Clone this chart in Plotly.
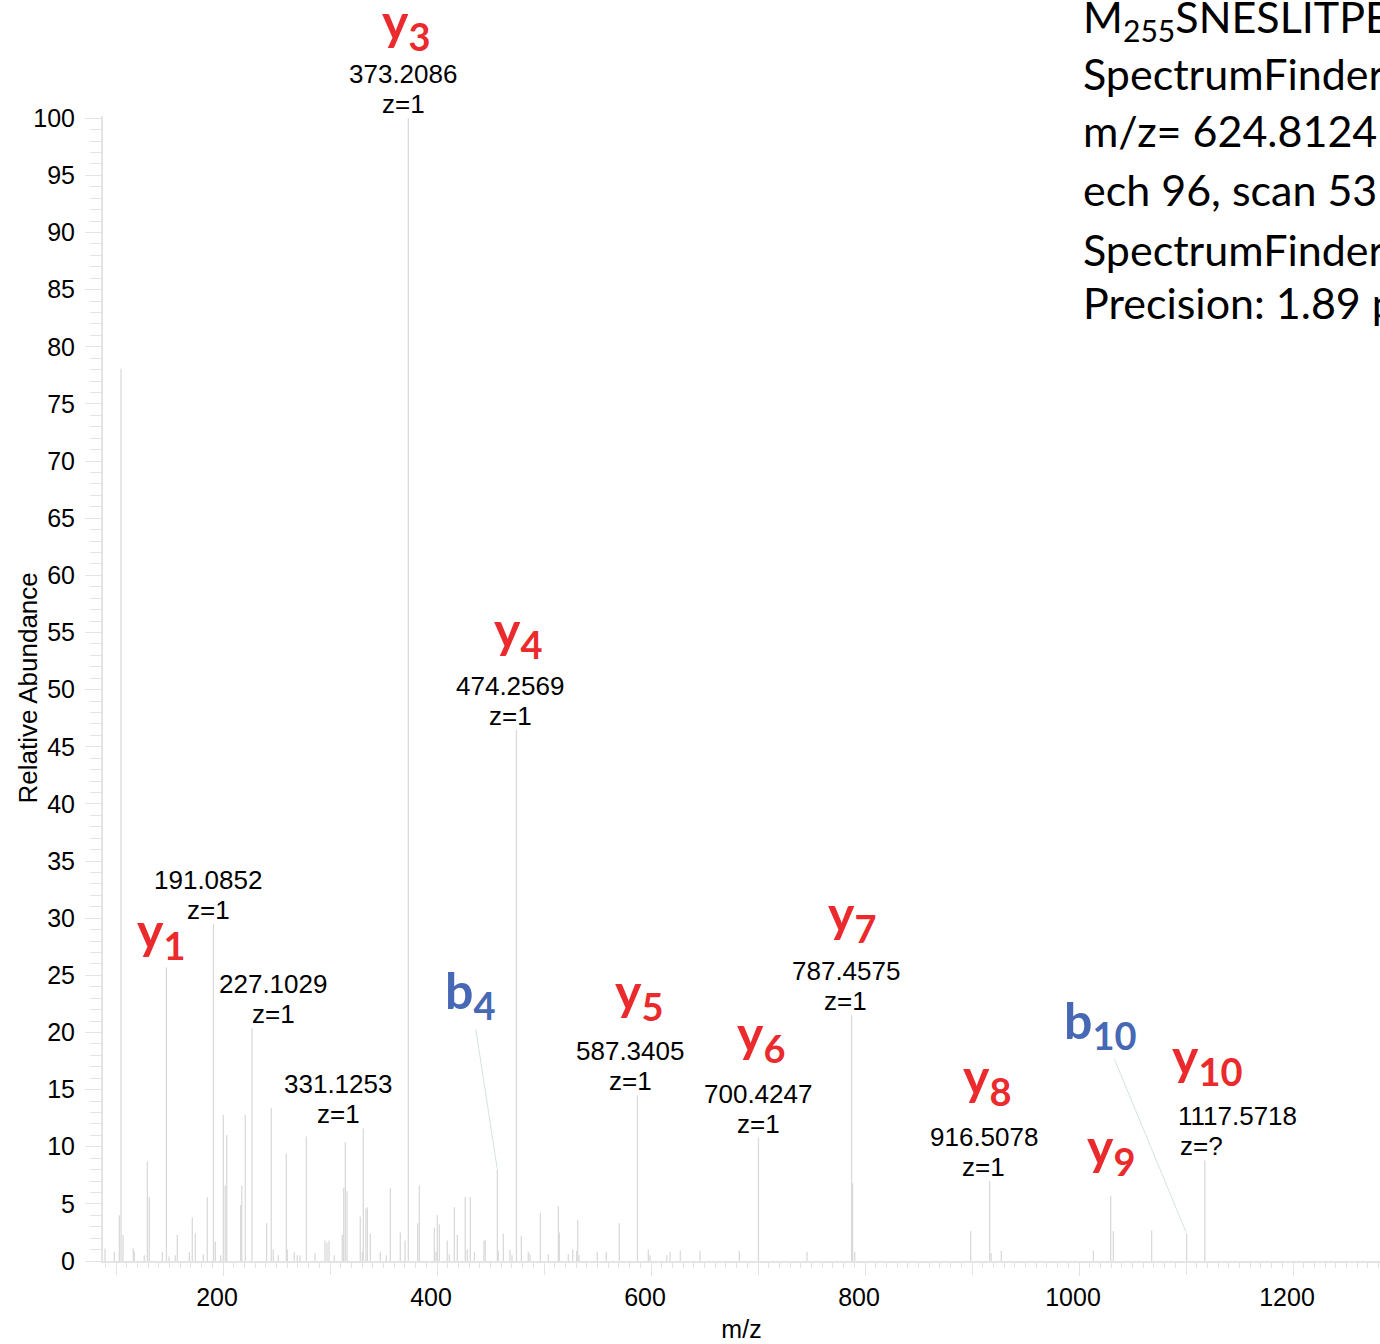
import plotly.graph_objects as go

# ---- spectrum: m/z and relative abundance (%) ----
mz = [89.7, 98.4, 103.1, 104.7, 106.5, 116.2, 117.1, 126.4, 129.3, 131.1,
      143.3, 147.11, 149.5, 155.4, 157.3, 168.5, 171.3, 174.1, 181.6, 185.3,
      191.0852, 192.8, 197.9, 200.3, 202.1, 203.5, 216.5, 217.5, 220.8, 227.1029,
      240.8, 245.1, 247.0, 251.7, 259.2, 260.1, 266.6, 269.4, 272.0, 277.9,
      286.0, 295.3, 297.2, 299.1, 304.0, 311.5, 312.8, 314.3, 315.9, 328.3,
      330.2, 331.1253, 333.6, 334.9, 337.7, 347.0, 352.6, 356.4, 365.7, 370.1,
      373.2086, 382.0, 383.5, 397.5, 399.1, 400.3, 402.2, 409.6, 411.5, 416.2,
      419.0, 426.4, 428.3, 431.1, 434.9, 443.9, 445.1, 456.4, 457.3, 462.0,
      468.2, 470.1, 474.2569, 478.8, 485.3, 486.9, 496.6, 504.0, 513.4, 514.3,
      522.7, 526.8, 530.5, 531.5, 532.7, 549.8, 558.2, 570.4, 587.3405, 597.5,
      599.1, 614.7, 617.8, 627.4, 645.8, 682.5, 700.4247, 745.8, 787.4575, 788.46,
      790.4, 898.8, 916.5078, 917.9, 927.4, 1013.4, 1029.6, 1032.1, 1067.9, 1100.6,
      1117.5718]
abundance = [1.1, 0.8, 4.0, 78.1, 2.3, 1.1, 0.8, 0.5, 8.7, 5.6,
             0.8, 25.7, 0.4, 0.5, 2.3, 0.8, 3.8, 2.4, 0.6, 5.6,
             29.5, 1.7, 0.5, 12.8, 6.6, 11.0, 4.9, 6.6, 12.8, 20.4,
             3.3, 13.4, 1.0, 0.5, 9.4, 1.0, 0.8, 0.5, 0.5, 10.9,
             0.7, 1.8, 1.6, 1.8, 0.5, 2.3, 6.4, 10.4, 6.1, 3.9,
             0.8, 11.6, 4.6, 4.7, 2.4, 0.8, 0.5, 6.4, 2.5, 1.8,
             100.0, 3.3, 6.6, 2.9, 0.8, 4.0, 3.2, 1.8, 0.6, 4.7,
             2.3, 5.6, 1.0, 5.6, 0.8, 1.8, 1.8, 8.0, 0.9, 2.4,
             1.0, 0.5, 46.5, 2.2, 0.8, 0.6, 4.2, 0.6, 4.8, 2.5,
             0.6, 1.0, 0.9, 3.6, 0.5, 0.8, 0.8, 3.3, 14.5, 1.0,
             0.5, 0.5, 0.8, 0.9, 0.9, 0.9, 10.8, 0.8, 21.5, 6.8,
             0.8, 2.6, 7.0, 0.7, 0.9, 0.9, 5.7, 2.6, 2.7, 2.4,
             8.8]

# ---- annotated fragment ions ----
ion_series = ["y", "y", "y", "b", "y", "y", "y", "y", "y", "b", "y"]
ion_index = ["1", "3", "4", "4", "5", "6", "7", "8", "9", "10", "10"]
ion_mz = [147.11, 373.2086, 474.2569, 456.4, 587.3405, 700.4247,
          787.4575, 916.5078, 1029.6, 1100.6, 1117.5718]

# ---- peaks labelled with m/z and charge ----
label_mz = [191.0852, 227.1029, 331.1253, 373.2086, 474.2569,
            587.3405, 700.4247, 787.4575, 916.5078, 1117.5718]
label_charge = ["1", "1", "1", "1", "1", "1", "1", "1", "1", "?"]

# ---- tick labels ----
x_tick_vals = [200, 400, 600, 800, 1000, 1200]
x_tick_text = ["200", "400", "600", "800", "1000", "1200"]
x_mid_ticks = [100, 300, 500, 700, 900, 1100]
y_tick_vals = list(range(0, 101, 5))
y_tick_text = [str(v) for v in y_tick_vals]

# ---- precursor information block ----
info_lines = [
    "M<sub>255</sub>SNESLITPEK",
    "SpectrumFinder",
    "m/z= 624.8124 (2+)",
    "ech 96, scan 5312",
    "SpectrumFinder",
    "Precision: 1.89 ppm",
]

RED = "#EA2A2C"
BLUE = "#4768B4"
PEAK = "#dadada"
AXIS = "#e4e4e4"
TXT = "Liberation Sans, Arial, sans-serif"
X_RANGE = [87.85, 1281.3]

# stick spectrum: one vertical segment per peak
xs, ys = [], []
for m, a in zip(mz, abundance):
    xs += [m, m, None]
    ys += [0, a, None]

fig = go.Figure(go.Scatter(x=xs, y=ys, mode="lines",
                           line=dict(color=PEAK, width=1.3),
                           hoverinfo="skip", showlegend=False))
# empty trace that keeps the secondary tick axis alive
fig.add_trace(go.Scatter(x=[None], y=[None], xaxis="x2", showlegend=False,
                         hoverinfo="skip"))

height_of = dict(zip(mz, abundance))

# m/z + charge labels above peaks (horizontal pixel offset of each label)
label_dx = [-5, 21, -25, -5, -6, -7, 0, -6, -6, -29]
for m, z, dx in zip(label_mz, label_charge, label_dx):
    h = height_of[m]
    left = z == "?"
    common = dict(x=m, y=h, xref="x", yref="y", showarrow=False,
                  font=dict(family=TXT, size=26, color="black"),
                  xanchor="left" if left else "center", yanchor="middle")
    fig.add_annotation(text=f"{m:.4f}", xshift=dx, yshift=44, **common)
    fig.add_annotation(text=f"z={z}", xshift=dx + (2 if left else 0),
                       yshift=14, **common)

# ion-type labels (pixel offsets of each label from its peak top)
ion_dx = [-5, -2, 2, -27, 2, 3, 0, -3, 0, -87, 2]
ion_dy = [33, 93, 97, 176, 100, 101, 98, 101, 46, 210, 100]
ion_leader = [False, False, False, True, False, False, False, False, False, True, False]
for s, n, m, dx, dy, lead in zip(ion_series, ion_index, ion_mz, ion_dx, ion_dy, ion_leader):
    h = height_of[m]
    txt = f"{s}<sub><span style='font-size:38px'>{n}</span></sub>"
    col = RED if s == "y" else BLUE
    f = dict(family="Lato", size=50, color=col, weight="bold")
    if lead:
        fig.add_annotation(x=m, y=h, xref="x", yref="y", text=txt, font=f,
                           showarrow=True, arrowhead=0, arrowwidth=1,
                           arrowcolor="#d3e4e4", ax=dx, ay=-dy, standoff=2)
    else:
        fig.add_annotation(x=m, y=h, xref="x", yref="y", text=txt, font=f,
                           showarrow=False, xshift=dx, yshift=dy,
                           xanchor="center", yanchor="middle")

# precursor info block, top right
info_y = [1.0847, 1.0367, 0.9869, 0.9362, 0.8838, 0.8367]
for line, yy in zip(info_lines, info_y):
    fig.add_annotation(x=0.7658, y=yy, xref="paper", yref="paper", text=line,
                       showarrow=False, xanchor="left", yanchor="middle",
                       font=dict(family="Lato", size=43, color="black"))

# y-axis title
fig.add_annotation(x=-0.0595, y=0.5, xref="paper", yref="paper",
                   text="Relative Abundance", textangle=-90, showarrow=False,
                   xanchor="center", yanchor="middle",
                   font=dict(family=TXT, size=26, color="black"))

fig.update_layout(
    width=1380, height=1344,
    margin=dict(l=103, r=0, t=116, b=83),
    paper_bgcolor="white", plot_bgcolor="white",
    font=dict(family=TXT, size=25, color="black"),
    hovermode=False,
    xaxis=dict(
        range=X_RANGE, showgrid=False, zeroline=False,
        showline=True, linecolor=AXIS, linewidth=2,
        tickmode="array", tickvals=x_tick_vals, ticktext=x_tick_text,
        ticks="outside", ticklen=13, tickcolor=AXIS, tickwidth=1,
        ticklabelshift=-6,
        minor=dict(dtick=10, ticks="outside", ticklen=5, tickcolor=AXIS),
        tickfont=dict(family=TXT, size=25, color="black"),
        title=dict(text="m/z", font=dict(family=TXT, size=25, color="black"), standoff=10),
    ),
    xaxis2=dict(
        range=X_RANGE, overlaying="x", anchor="y", side="bottom",
        showgrid=False, zeroline=False, showline=False, showticklabels=False,
        tickmode="array", tickvals=x_mid_ticks,
        ticks="outside", ticklen=13, tickcolor=AXIS, tickwidth=1,
    ),
    yaxis=dict(
        range=[0, 100.2], showgrid=False, zeroline=False,
        showline=True, linecolor=AXIS, linewidth=2,
        tickmode="array", tickvals=y_tick_vals, ticktext=y_tick_text,
        ticks="outside", ticklen=16, tickcolor=AXIS, tickwidth=1,
        ticklabelstandoff=5,
        minor=dict(dtick=1, ticks="outside", ticklen=11, tickcolor=AXIS),
        tickfont=dict(family=TXT, size=25, color="black"),
    ),
)

fig.write_html("out.html")
